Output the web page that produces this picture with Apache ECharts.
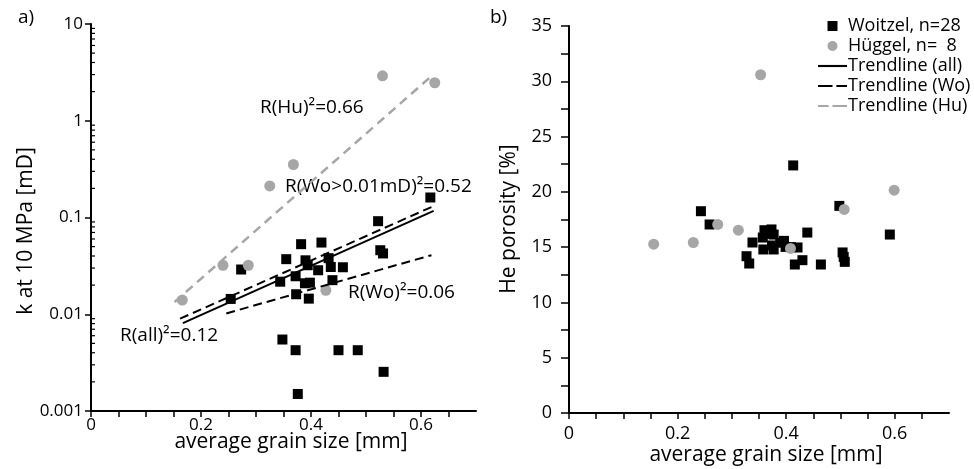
<!DOCTYPE html>
<html>
<head>
<meta charset="utf-8">
<script src="https://cdn.jsdelivr.net/npm/echarts@6/dist/echarts.min.js"></script>
<style>html,body{margin:0;padding:0;background:#fff}#c{width:974px;height:469px}</style>
</head>
<body>
<div id="c"></div>
<script>
// ---- Panel a) permeability vs grain size ----
const woitzelGrainA = [0.382,0.419,0.355,0.390,0.394,0.432,0.273,0.372,0.413,0.436,0.458,0.344,0.389,0.398,0.439,0.373,0.396,0.254,0.522,0.526,0.531,0.617,0.348,0.372,0.450,0.485,0.532,0.376];
const woitzelK = [0.053,0.0551,0.0371,0.0361,0.0321,0.038,0.029,0.0247,0.0285,0.0308,0.0306,0.0217,0.0209,0.0212,0.0225,0.0161,0.0145,0.0144,0.0916,0.0459,0.0425,0.161,0.00548,0.00425,0.00425,0.00425,0.00254,0.0015];
const hueggelGrainA = [0.166,0.240,0.286,0.325,0.368,0.427,0.530,0.625];
const hueggelK = [0.0140,0.0321,0.0321,0.212,0.353,0.0177,2.91,2.47];
const trendAllX = [0.167,0.623], trendAllY = [0.0081,0.117];
const trendWoHiX = [0.162,0.620], trendWoHiY = [0.0090,0.129];
const trendWoX = [0.246,0.619], trendWoY = [0.0102,0.0408];
const trendHuX = [0.152,0.621], trendHuY = [0.0134,2.96];
const kTickLabels = ['0.001','0.01','0.1','1','10'];
const kMinorTicks = [0.002,0.003,0.004,0.005,0.006,0.007,0.008,0.009,0.02,0.03,0.04,0.05,0.06,0.07,0.08,0.09,0.2,0.3,0.4,0.5,0.6,0.7,0.8,0.9,2,3,4,5,6,7,8,9];
const annotations = ['R(Hu)²=0.66','R(Wo>0.01mD)²=0.52','R(Wo)²=0.06','R(all)²=0.12'];

// ---- Panel b) porosity vs grain size ----
const woitzelGrainB = [0.243,0.259,0.413,0.498,0.591,0.439,0.338,0.327,0.332,0.360,0.373,0.377,0.357,0.374,0.358,0.377,0.396,0.399,0.421,0.430,0.416,0.464,0.504,0.506,0.508,0.365,0.389,0.409];
const woitzelPorosity = [18.25,17.05,22.39,18.73,16.14,16.32,15.42,14.18,13.52,16.53,16.6,16.14,15.87,15.15,14.79,14.79,15.57,15.02,14.97,13.82,13.43,13.43,14.52,14.12,13.67,16.2,15.4,15.0];
const hueggelGrainB = [0.156,0.229,0.274,0.312,0.353,0.408,0.507,0.599];
const hueggelPorosity = [15.27,15.42,17.05,16.53,30.59,14.88,18.41,20.15];

const names = ['Woitzel, n=28','Hüggel, n=  8','Trendline (all)','Trendline (Wo)','Trendline (Hu)'];
const FONT = '"Open Sans", "DejaVu Sans", sans-serif';
const GREY = '#a6a6a6';

const zip = (a,b) => a.map((v,i)=>[v,b[i]]);
const fmtX = v => { const r = Math.round(v*100)/100; return (Math.abs(r*5 - Math.round(r*5))<1e-6) ? (r===0?'0':String(r)) : ''; };

const axisLineStyle = {show:true, lineStyle:{color:'#000', width:2}};
function xAxisCfg(gi, margin, fs){
  return {type:'value', gridIndex:gi, min:0, max:0.7, interval:0.05,
    axisLine:axisLineStyle, axisTick:{show:true, length:6, lineStyle:{color:'#000', width:1.5}},
    axisLabel:{formatter:fmtX, color:'#000', fontFamily:FONT, fontSize:fs, margin:margin, showMaxLabel:false},
    splitLine:{show:false}};
}

const ICON_SQ = 'path://M0,0L10,0L10,10L0,10Z';
const ICON_CI = 'circle';
const ICON_SOLID = 'path://M0,0L30,0L30,2.2L0,2.2Z';
const ICON_DASH = 'path://M0,0L15,0L15,2.2L0,2.2Z M19,0L30,0L30,2.2L19,2.2Z';
const ICON_DASH_G = 'path://M0,0L11,0L11,2.2L0,2.2Z M15,0L30,0L30,2.2L15,2.2Z';

const option = {
  animation:false,
  textStyle:{fontFamily:FONT},
  grid:[
    {left:91, top:24, width:385, height:387},
    {left:569, top:26, width:380, height:387}
  ],
  xAxis:[xAxisCfg(0,6,17), xAxisCfg(1,12,18)],
  yAxis:[
    {type:'log', gridIndex:0, logBase:10, min:0.001, max:10,
     axisLine:axisLineStyle, axisTick:{show:true, length:6, lineStyle:{color:'#000', width:1.5}},
     minorTick:{show:false}, splitLine:{show:false},
     axisLabel:{color:'#000', fontFamily:FONT, fontSize:17, margin:8,
       formatter:v=>{const e=Math.round(Math.log10(v)); return kTickLabels[e+3]||'';}}},
    {type:'value', gridIndex:1, min:0, max:35, interval:2.5,
     axisLine:axisLineStyle, axisTick:{show:true, length:8, lineStyle:{color:'#000', width:1.5}},
     splitLine:{show:false},
     axisLabel:{color:'#000', fontFamily:FONT, fontSize:18, margin:17,
       formatter:v=> (Math.abs(v%5)<1e-6 ? String(v) : '')}}
  ],
  legend:{
    data:[
      {name:names[0], icon:ICON_SQ},
      {name:names[1], icon:ICON_CI},
      {name:names[2], icon:ICON_SOLID},
      {name:names[3], icon:ICON_DASH},
      {name:names[4], icon:ICON_DASH_G}
    ],
    orient:'vertical', left:813, top:12, itemWidth:29, itemHeight:10, itemGap:2,
    itemStyle:{borderWidth:0, opacity:1}, lineStyle:{width:0},
    textStyle:{color:'#000', fontFamily:FONT, fontSize:18, lineHeight:18, padding:[0,0,0,-4]}
  },
  graphic:[
    {type:'text', left:18, top:8, style:{text:'a)', font:'19px '+FONT, fill:'#000'}},
    {type:'text', left:490, top:8, style:{text:'b)', font:'19px '+FONT, fill:'#000'}},
    {type:'text', x:291, y:442, style:{text:'average grain size [mm]', font:'21px '+FONT, fill:'#000', align:'center', verticalAlign:'middle'}},
    {type:'text', x:766, y:455, style:{text:'average grain size [mm]', font:'21px '+FONT, fill:'#000', align:'center', verticalAlign:'middle'}},
    {type:'text', x:26, y:231, rotation:Math.PI/2, style:{text:'k at 10 MPa [mD]', font:'21px '+FONT, fill:'#000', align:'center', verticalAlign:'middle'}},
    {type:'text', x:509, y:219, rotation:Math.PI/2, style:{text:'He porosity [%]', font:'21px '+FONT, fill:'#000', align:'center', verticalAlign:'middle'}},
    {type:'text', x:260, y:108, style:{text:annotations[0], font:'19px '+FONT, fill:'#000', verticalAlign:'middle'}},
    {type:'text', x:285, y:187, style:{text:annotations[1], font:'19px '+FONT, fill:'#000', verticalAlign:'middle'}},
    {type:'text', x:348, y:293, style:{text:annotations[2], font:'19px '+FONT, fill:'#000', verticalAlign:'middle'}},
    {type:'text', x:120, y:336, style:{text:annotations[3], font:'19px '+FONT, fill:'#000', verticalAlign:'middle'}}
  ],
  series:[
    {type:'custom', xAxisIndex:0, yAxisIndex:0, silent:true, clip:false,
     data:kMinorTicks.map(v=>[0,v]),
     renderItem:(params, api)=>{ const p = api.coord([0, api.value(1)]);
       return {type:'line', shape:{x1:p[0]+1, y1:p[1], x2:p[0]+4, y2:p[1]}, style:{stroke:'#000', lineWidth:1.2}}; }},
    {name:names[0], type:'scatter', xAxisIndex:0, yAxisIndex:0, symbol:'rect', symbolSize:10, itemStyle:{color:'#000', opacity:1}, data:zip(woitzelGrainA, woitzelK), z:2},
    {name:names[1], type:'scatter', xAxisIndex:0, yAxisIndex:0, symbol:'circle', symbolSize:11, itemStyle:{color:GREY, opacity:1}, data:zip(hueggelGrainA, hueggelK), z:3},
    {name:names[4], type:'line', xAxisIndex:0, yAxisIndex:0, symbol:'none', lineStyle:{color:GREY, width:2.5, type:[9,6]}, itemStyle:{color:GREY}, data:zip(trendHuX, trendHuY), z:4},
    {name:names[2], type:'line', xAxisIndex:0, yAxisIndex:0, symbol:'none', lineStyle:{color:'#000', width:2}, itemStyle:{color:'#000'}, data:zip(trendAllX, trendAllY), z:4},
    {name:names[3], type:'line', xAxisIndex:0, yAxisIndex:0, symbol:'none', lineStyle:{color:'#000', width:2, type:[9,5]}, itemStyle:{color:'#000'}, data:zip(trendWoHiX, trendWoHiY), z:4},
    {name:names[3], type:'line', xAxisIndex:0, yAxisIndex:0, symbol:'none', lineStyle:{color:'#000', width:2, type:[9,5]}, itemStyle:{color:'#000'}, data:zip(trendWoX, trendWoY), z:4},
    {name:names[0], type:'scatter', xAxisIndex:1, yAxisIndex:1, symbol:'rect', symbolSize:10, itemStyle:{color:'#000', opacity:1}, data:zip(woitzelGrainB, woitzelPorosity), z:2},
    {name:names[1], type:'scatter', xAxisIndex:1, yAxisIndex:1, symbol:'circle', symbolSize:11, itemStyle:{color:GREY, opacity:1}, data:zip(hueggelGrainB, hueggelPorosity), z:3}
  ]
};
const chart = echarts.init(document.getElementById('c'), null, {renderer:'canvas'});
chart.setOption(option);
</script>
</body>
</html>
